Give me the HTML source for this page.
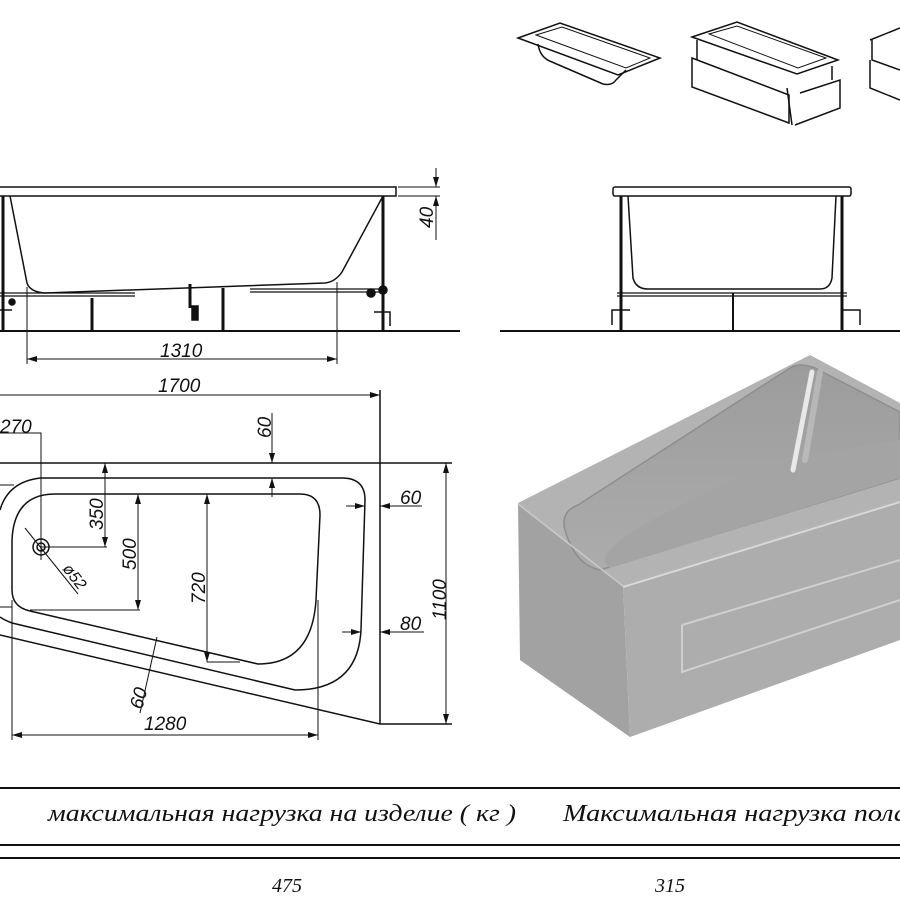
<!DOCTYPE html>
<html><head><meta charset="utf-8"><style>
html,body{margin:0;padding:0;background:#fff;width:900px;height:900px;overflow:hidden}
svg{display:block}
text{font-family:"Liberation Sans",sans-serif;font-style:italic;fill:#111}
.t{font-family:"Liberation Serif","DejaVu Serif",serif;font-style:italic}
</style></head><body>
<svg width="900" height="900" viewBox="0 0 900 900" xmlns="http://www.w3.org/2000/svg">
<defs>
<marker id="a" viewBox="0 0 10 6" refX="10" refY="3" markerWidth="10" markerHeight="6" orient="auto-start-reverse" markerUnits="userSpaceOnUse"><path d="M0,0L10,3L0,6z" fill="#111"/></marker>
<linearGradient id="g3" x1="0" y1="0" x2="0" y2="1"><stop offset="0" stop-color="#9c9c9c"/><stop offset="1" stop-color="#acacac"/></linearGradient>
</defs>
<g fill="none" stroke="#111" stroke-width="1.5">
<path d="M518,38 L560,23 L660,58 L618,75 Z"/>
<path d="M536,35 L562,27 L650,58 L626,68 Z" stroke-width="1"/>
<path d="M538,44 Q540,58 552,62 L603,84 Q612,86 616,80 L626,70"/>
<path d="M692,37 L737,22 L838,60 L797,74 Z"/>
<path d="M709,34 L737,26 L826,58 L798,68 Z" stroke-width="1"/>
<path d="M692,58 L789,95 L789,123 L692,87 Z"/>
<path d="M795,125 L840,108 L840,80 L800,93"/>
<path d="M697,40 L697,60 M787,88 L792,125 M832,66 L832,80"/>
<path d="M870,40 L900,28 M872,40 L872,60 L900,70 M870,60 L870,88 L900,100"/>
<path d="M0,187 L396,187 L396,196 L0,196"/>
<path d="M10,196 L27,283 Q30,292 45,293 L325,283 Q335,282 342,272 L383,196"/>
<path d="M3,196 L3,331 M383,196 L383,331" stroke-width="3"/>
<path d="M0,296 L135,296 M0,293 L135,293 M250,292 L383,292 M250,289 L383,289" stroke-width="1.2"/>
<path d="M92,298 L92,331 M223,288 L223,331" stroke-width="3"/>
<path d="M190,284 L190,308" stroke-width="3"/><rect x="192" y="306" width="6" height="14" fill="#111"/>
<circle cx="371" cy="293" r="4" fill="#111"/><circle cx="383" cy="290" r="4" fill="#111"/>
<circle cx="12" cy="302" r="3" fill="#111"/>
<path d="M374,312 L390,312 L390,326 M0,310 L12,310"/>
<path d="M0,331 L460,331" stroke-width="2"/>
<path d="M398,187 L440,187 M398,196 L440,196" stroke-width="1"/>
<path d="M436,168 L436,187" marker-end="url(#a)" stroke-width="1"/>
<path d="M436,240 L436,196" marker-end="url(#a)" stroke-width="1"/>
<path d="M27,287 L27,364 M337,282 L337,364" stroke-width="1"/>
<path d="M27,359 L337,359" marker-start="url(#a)" marker-end="url(#a)" stroke-width="1"/>
<rect x="613" y="187" width="238" height="9" rx="2"/>
<path d="M628,196 L633,278 Q636,289 648,289 L820,289 Q830,289 832,278 L836,196"/>
<path d="M621,196 L621,331 M842,196 L842,331" stroke-width="3"/>
<path d="M617,293 L847,293 M617,296 L847,296" stroke-width="1.2"/>
<path d="M733,293 L733,331" stroke-width="2"/>
<path d="M612,325 L612,310 L630,310 M860,325 L860,310 L842,310"/>
<path d="M500,331 L900,331" stroke-width="2"/>
<path d="M0,395 L380,395" marker-end="url(#a)" stroke-width="1"/>
<path d="M380,390 L380,724 M0,463 L452,463"/>
<path d="M0,635 L380,724 L452,724" />
<path d="M40,478 L342,478 Q365,478 365,500 L361,630 Q358,690 295,690 L12,623 Q4,620 0,617"/>
<path d="M40,478 Q8,482 0,510"/>
<path d="M55,494 L300,494 Q320,494 320,515 L316,600 Q312,664 258,664 L30,611 Q12,607 12,590 L12,540 Q14,494 55,494 Z"/>
<circle cx="41" cy="547" r="8"/><circle cx="41" cy="547" r="4"/>
<path d="M25,528 L78,594" stroke-width="1"/>
<path d="M0,433 L41,433 L41,560" stroke-width="1"/>
<path d="M41,547 L107,547" stroke-width="1"/>
<path d="M105,547 L105,463" marker-start="url(#a)" marker-end="url(#a)" stroke-width="1"/>
<path d="M138,610 L138,494" marker-start="url(#a)" marker-end="url(#a)" stroke-width="1"/>
<path d="M30,610 L140,610" stroke-width="1"/>
<path d="M207,662 L207,494" marker-start="url(#a)" marker-end="url(#a)" stroke-width="1"/>
<path d="M207,662 L240,662" stroke-width="1"/>
<path d="M272,413 L272,463" marker-end="url(#a)" stroke-width="1"/>
<path d="M272,497 L272,478" marker-end="url(#a)" stroke-width="1"/>
<path d="M346,506 L365,506" marker-end="url(#a)" stroke-width="1"/>
<path d="M422,506 L380,506" marker-end="url(#a)" stroke-width="1"/>
<path d="M342,632 L361,632" marker-end="url(#a)" stroke-width="1"/>
<path d="M424,632 L380,632" marker-end="url(#a)" stroke-width="1"/>
<path d="M446,463 L446,724" marker-start="url(#a)" marker-end="url(#a)" stroke-width="1"/>
<path d="M157,637 L140,713" stroke-width="1"/>
<path d="M12,600 L12,740 M318,600 L318,740" stroke-width="1"/>
<path d="M12,735 L318,735" marker-start="url(#a)" marker-end="url(#a)" stroke-width="1"/>
<path d="M0,607 L12,607 M0,485 L14,485" stroke-width="1"/>
<path d="M0,788 L900,788 M0,845 L900,845 M0,858 L900,858" stroke-width="2"/>
</g>
<path d="M518,503 L810,355 L900,403 L900,500 L623,585 Z" fill="#b3b3b3"/>
<path d="M518,503 L623,585 L630,737 L520,660 Z" fill="#a2a2a2"/>
<path d="M623,585 L900,500 L900,640 L630,737 Z" fill="#adadad"/>
<path d="M578,505 Q560,512 565,530 Q575,565 600,570 L900,478 L900,412 L815,368 Q800,362 790,368 Z" fill="url(#g3)" stroke="#8e8e8e" stroke-width="1.5"/>
<path d="M615,545 Q640,520 780,460 L900,440 L900,478 L610,568 Q598,560 615,545 Z" fill="#a4a4a4"/>
<path d="M812,372 L793,470" stroke="#e8e8e8" stroke-width="5" stroke-linecap="round"/>
<path d="M820,372 L805,460" stroke="#c8c8c8" stroke-width="6" stroke-linecap="round" opacity="0.6"/>
<path d="M623,587 L900,502" stroke="#d8d8d8" stroke-width="2"/>
<path d="M518,504 L623,586" stroke="#c8c8c8" stroke-width="1.5"/>
<path d="M682,625 L900,560 M682,625 L682,672 L900,600" stroke="#d0d0d0" stroke-width="2" fill="none"/>
<g font-size="19">
<text x="158" y="392">1700</text>
<text x="160" y="357">1310</text>
<text x="0" y="433">270</text>
<text x="400" y="504">60</text>
<text x="400" y="630">80</text>
<text x="144" y="730">1280</text>
<text transform="translate(433,228) rotate(-90)">40</text>
<text transform="translate(103,530) rotate(-90)">350</text>
<text transform="translate(136,570) rotate(-90)">500</text>
<text transform="translate(205,604) rotate(-90)">720</text>
<text transform="translate(271,438) rotate(-90)">60</text>
<text transform="translate(446,620) rotate(-90)">1100</text>
<text transform="translate(142,710) rotate(-75)">60</text>
<text transform="translate(62,569) rotate(52)" font-size="16">ø52</text>
</g>
<g class="t" font-size="24">
<text x="48" y="821" class="t" textLength="468" lengthAdjust="spacingAndGlyphs">максимальная нагрузка на изделие ( кг )</text>
<text x="563" y="821" class="t" textLength="345" lengthAdjust="spacingAndGlyphs">Максимальная нагрузка пола</text>
<text x="272" y="892" class="t" font-size="20">475</text>
<text x="655" y="892" class="t" font-size="20">315</text>
</g>
</svg>
</body></html>
